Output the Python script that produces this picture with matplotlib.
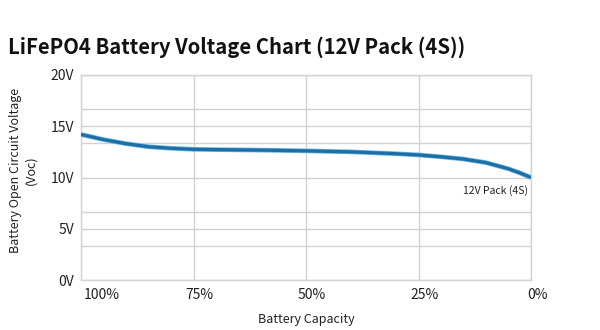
import matplotlib
matplotlib.use("Agg")
import matplotlib.pyplot as plt
import matplotlib.transforms as mtransforms

plt.rcParams['font.family'] = ['Noto Sans CJK SC', 'DejaVu Sans']

title = "LiFePO4 Battery Voltage Chart (12V Pack (4S))"
series_name = "12V Pack (4S)"
capacity = [100, 95, 90, 85, 80, 75, 70, 60, 50, 40, 30, 25, 20, 15, 10, 5, 2.5, 0]
voltage = [14.2, 13.7, 13.3, 13.0, 12.85, 12.75, 12.72, 12.67, 12.6, 12.5, 12.32, 12.2, 12.02, 11.8, 11.45, 10.85, 10.45, 10.0]
x_ticks = [100, 75, 50, 25, 0]
x_ticklabels = ["100%", "75%", "50%", "25%", "0%"]
y_ticks = [0, 5, 10, 15, 20]
y_ticklabels = ["0V", "5V", "10V", "15V", "20V"]
y_minor_grid = [10/3, 20/3, 40/3, 50/3]

W, H = 600, 330
fig = plt.figure(figsize=(W/100, H/100), dpi=100)
ax = fig.add_axes([81/W, 1-280/H, 450/W, 205/H])

grid_c = '#d2d2d2'
text_c = '#222222'

ax.set_xlim(100, 0)
ax.set_ylim(0, 20)
ax.set_xticks(x_ticks)
ax.set_xticklabels(x_ticklabels)
ax.set_yticks(y_ticks)
ax.set_yticklabels(y_ticklabels)
ax.set_yticks(y_minor_grid, minor=True)
ax.grid(True, which='major', color=grid_c, lw=1)
ax.grid(True, which='minor', axis='y', color=grid_c, lw=1)
ax.tick_params(which='both', length=0)
ax.tick_params(axis='y', pad=5, labelsize=10, labelcolor=text_c)
ax.tick_params(axis='x', pad=6, labelsize=10, labelcolor=text_c)
for s in ax.spines.values():
    s.set_color(grid_c)
    s.set_linewidth(1)
ax.set_axisbelow(True)

labels = ax.get_xticklabels()
for i, lab in enumerate(labels):
    if i == 0:
        lab.set_ha('left')
        lab.set_transform(lab.get_transform() + mtransforms.ScaledTranslation(3/100, 0, fig.dpi_scale_trans))
    else:
        lab.set_transform(lab.get_transform() + mtransforms.ScaledTranslation(6/100, 0, fig.dpi_scale_trans))

ax.plot(capacity, voltage, color='#6cb8e6', lw=3.4, solid_capstyle='butt', zorder=3)
ax.plot(capacity, voltage, color='#1c6ea4', lw=2.3, solid_capstyle='butt', zorder=4)

ax.annotate(series_name, xy=(capacity[-1], voltage[-1]), xytext=(-3, -13),
            textcoords='offset pixels', ha='right', va='center', fontsize=7.5, color=text_c)

ax.set_xlabel("Battery Capacity", fontsize=9, color=text_c)
ax.xaxis.set_label_coords(0.5, -39/205)
ax.xaxis.label.set_va('center')
ax.set_ylabel("Battery Open Circuit Voltage\n(Voc)", fontsize=9, color=text_c, linespacing=1.2)
ax.yaxis.set_label_coords((23-81)/450, 110/205)
ax.yaxis.label.set_va('center')

fig.text(8/W, 1-47/H, title, fontsize=14.6, fontweight='bold', color='#111111', va='center', ha='left')

fig.savefig("out.png", dpi=100, facecolor='white')
